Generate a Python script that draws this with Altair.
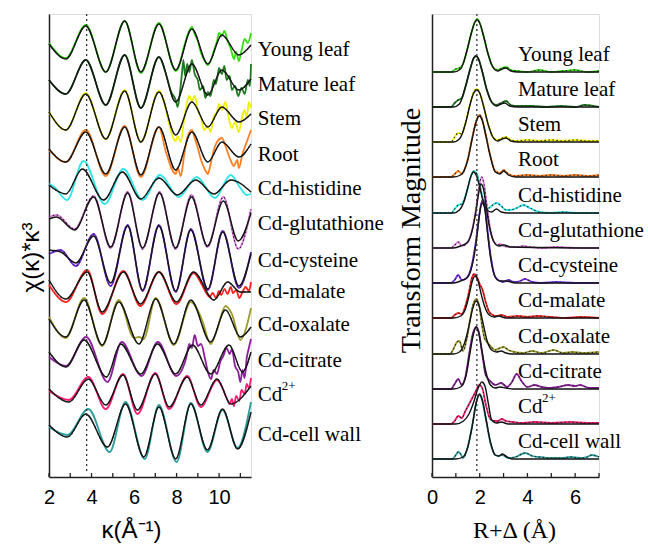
import altair as alt
import pandas as pd

# ---------------- categories / colours ----------------
SAMPLES = ["Young leaf", "Mature leaf", "Stem", "Root", "Cd-histidine", "Cd-glutathione",
           "Cd-cysteine", "Cd-malate", "Cd-oxalate", "Cd-citrate", "Cd2+", "Cd-cell wall"]
COLORS = ["#33dd11", "#1f7a1f", "#f0f000", "#ff7f22", "#2ee6e6", "#e47ae4",
          "#7a2cf5", "#ff2020", "#9c9c2c", "#8e1e9e", "#ff1a72", "#2a9c9c"]

# vertical offsets of the stacked traces
K_OFFSETS = [430, 395, 361, 325, 291, 256, 219, 188, 155, 119, 85, 45]
R_OFFSETS = [405, 370, 335, 300, 264, 229, 194, 159, 123, 88, 53, 18]

# ---------------- k-space (left panel) ----------------
PLANT_K = [2.0, 2.79, 3.73, 4.67, 5.56, 6.32, 7.17, 7.96, 8.72, 9.47, 10.13, 10.93, 11.5]

YL_KFY = [3, -12, 21, -25, 26, -25, 23, -23, 18, -17, 12, -8, 2]
YL_KD = [2.0, 2.79, 3.73, 4.67, 5.56, 6.32, 7.17, 7.96, 8.1, 8.25, 8.4, 8.55, 8.72, 8.85, 9.0, 9.15, 9.3,
         9.47, 9.6, 9.75, 9.9, 10.0, 10.13, 10.25, 10.4, 10.55, 10.7, 10.8, 10.93, 11.05, 11.2, 11.35, 11.5]
YL_KDY = [4, -11, 22, -25, 26, -26, 24, -24, -20, -8, 4, 14, 20, 13, 6, -6, -13,
          -18, -14, -4, 6, 14, 11, 16, 6, -2, -12, -5, -14, -4, 8, 4, 14]

ML_KFY = [2, -12, 22, -23, 27, -26, 25, -20, 18, -13, 12, -8, 3]
ML_KD = [2.0, 2.79, 3.73, 4.67, 5.56, 6.32, 7.17, 7.5, 7.75, 7.96, 8.05, 8.15, 8.25, 8.32, 8.4, 8.5, 8.6,
         8.72, 8.85, 9.0, 9.1, 9.25, 9.35, 9.47, 9.6, 9.75, 9.85, 10.0, 10.13, 10.25, 10.35, 10.5, 10.6,
         10.75, 10.9, 11.05, 11.2, 11.35, 11.45, 11.5]
ML_KDY = [2, -12, 22, -23, 27, -26, 25, 8, -10, -18, -25, -12, 8, 22, 6, 18, 10,
          22, 8, 2, -8, -4, -16, -10, -14, 2, -2, 14, 8, 16, 2, 6, -8,
          -4, -14, -6, -12, 2, -4, 18]

ST_KFY = [4, -14, 22, -23, 25, -26, 24, -19, 14, -11, 9, -6, 2]
ST_KD = [2.0, 2.79, 3.73, 4.67, 5.56, 6.32, 7.17, 7.96, 8.05, 8.2, 8.35, 8.5, 8.6, 8.72, 8.85, 9.0, 9.15,
         9.3, 9.47, 9.6, 9.75, 9.9, 10.0, 10.13, 10.3, 10.45, 10.6, 10.75, 10.93, 11.05, 11.2, 11.3, 11.4, 11.5]
ST_KDY = [4, -14, 23, -23, 26, -26, 25, -25, -20, -26, -4, 14, 20, 15, 20, 6, -2,
          -14, -10, -16, 0, 4, 12, 6, 14, -2, -12, -6, -16, -4, 6, -2, 14, 8]

RO_KFY = [3, -10, 20, -22, 25, -23, 25, -18, 20, -10, 10, -5, 8]
RO_KD = [2.0, 2.79, 3.73, 4.67, 5.56, 6.32, 7.17, 7.5, 7.96, 8.05, 8.2, 8.35, 8.5, 8.72, 8.85, 9.0,
         9.15, 9.3, 9.47, 9.6, 9.75, 9.9, 10.13, 10.3, 10.5, 10.7, 10.85, 10.93, 11.1, 11.3, 11.5]
RO_KDY = [2, -10, 22, -24, 26, -25, 25, 0, -22, -16, -24, -4, 14, 22, 14, 4,
          -8, -16, -22, -12, 2, 10, 14, 6, -6, -14, -8, -16, -2, 10, 22]

HI_KF = [2.0, 2.79, 3.57, 4.57, 5.45, 6.32, 7.17, 8.04, 8.9, 9.76, 10.55, 11.5]
HI_KFY = [1, -8, 17, -14, 14, -13, 8, -9, 6, -8, 6, -6]
HI_KD = [2.0, 2.2, 2.85, 3.62, 4.62, 5.5, 6.4, 7.22, 8.1, 8.95, 9.8, 10.55, 11.0, 11.3, 11.5]
HI_KDY = [2, 0, -14, 25, -18, 17, -14, 11, -11, 9, -12, 11, -2, -9, -8]

GS_K = [2.0, 2.35, 3.2, 4.1, 4.9, 5.7, 6.4, 7.2, 7.95, 8.7, 9.45, 10.2, 10.9, 11.5]
GS_KFY = [2, 4, -9, 24, -26, 28, -27, 28, -27, 24, -25, 20, -20, 8]
GS_KDY = [4, 6, -8, 25, -27, 29, -28, 29, -28, 26, -26, 24, -28, 12]

CY_K = [2.0, 2.55, 3.26, 4.1, 4.9, 5.7, 6.4, 7.17, 7.96, 8.67, 9.47, 10.17, 10.93, 11.5]
CY_KFY = [8, 6, -5, 22, -25, 32, -32, 32, -33, 28, -31, 26, -28, 4]
CY_KDY = [4, 8, -8, 24, -28, 33, -33, 33, -34, 29, -32, 27, -30, 6]

MA_KF = [2.0, 2.79, 3.8, 4.5, 5.5, 6.3, 7.17, 8.0, 8.8, 9.76, 10.4, 11.0, 11.5]
MA_KFY = [9, -10, 17, -23, 17, -15, 17, -13, 17, -11, 7, -3, -3]
MA_KD = [2.0, 2.8, 3.8, 4.5, 5.5, 6.3, 7.17, 8.0, 8.8, 9.2, 9.4, 9.55, 9.7, 9.85, 10.0, 10.1, 10.25,
         10.4, 10.55, 10.65, 10.8, 10.95, 11.1, 11.25, 11.4, 11.5]
MA_KDY = [4, -13, 19, -25, 18, -17, 17, -15, 16, 4, -4, -8, -4, -9, -2, -6, 0,
          -5, 2, -4, -1, -9, -3, 2, -2, 7]

OX_KF = [2.0, 2.79, 3.65, 4.5, 5.28, 6.23, 7.02, 7.87, 8.67, 9.6, 10.3, 11.0, 11.5]
OX_KFY = [3, -15, 22, -23, 20, -22, 23, -22, 22, -20, 12, -15, -5]
OX_KD = [2.0, 2.79, 3.65, 4.5, 5.28, 6.0, 6.23, 6.45, 7.02, 7.87, 8.67, 9.2, 9.6, 9.9, 10.3, 10.6, 11.0, 11.3, 11.5]
OX_KDY = [5, -16, 24, -24, 22, -16, -15, -17, 24, -23, 20, 2, -22, -8, 16, 8, -18, -4, 14]

CI_KF = [2.0, 2.79, 3.65, 4.7, 5.37, 6.32, 7.1, 7.96, 8.75, 9.6, 10.47, 11.1, 11.5]
CI_KFY = [6, -9, 18, -19, 14, -16, 14, -16, 13, -16, 13, -14, 6]
CI_KD = [2.0, 2.8, 3.75, 4.75, 5.42, 6.35, 7.12, 7.98, 8.45, 8.6, 8.72, 8.85, 9.0, 9.15, 9.35, 9.5,
         9.62, 9.75, 9.9, 10.05, 10.2, 10.35, 10.5, 10.6, 10.75, 10.9, 11.0, 11.1, 11.2, 11.3, 11.4, 11.5]
CI_KDY = [1, -8, 21, -24, 16, -18, 16, -18, 0, 14, 10, 23, 12, 14, -2, -16,
          -21, -12, -16, -4, 2, 10, 4, 9, -8, -14, -24, -12, -20, 0, 10, 19]

CD_KF = [2.0, 2.94, 3.85, 4.67, 5.48, 6.16, 7.0, 7.65, 8.5, 9.14, 9.9, 10.55, 11.5]
CD_KFY = [3, -10, 13, -13, 17, -18, 18, -15, 15, -13, 13, -12, 6]
CD_KD = [2.0, 2.94, 3.85, 4.67, 5.48, 6.16, 7.0, 7.65, 8.5, 9.14, 9.9, 10.2, 10.35, 10.5, 10.6, 10.7,
         10.8, 10.95, 11.05, 11.2, 11.3, 11.4, 11.5]
CD_KDY = [1, -8, 15, -17, 18, -22, 19, -17, 16, -15, 12, 2, -6, -12, -7, -14,
          -4, -9, 2, -2, 8, 4, 14]

CW_KF = [2.0, 2.87, 3.73, 4.75, 5.6, 6.46, 7.17, 7.96, 8.67, 9.45, 10.16, 10.87, 11.5]
CW_KFY = [7, -5, 18, -15, 28, -25, 25, -27, 28, -18, 23, -17, 20]
CW_KD = [2.0, 2.87, 3.85, 4.85, 5.6, 6.5, 7.17, 8.0, 8.67, 9.45, 10.16, 10.87, 11.5]
CW_KDY = [5, -3, 23, -20, 30, -27, 27, -30, 29, -20, 22, -16, 30]

# ---------------- R-space (right panel) ----------------
YL_RF = [0, 0.9, 1.2, 1.45, 1.65, 1.8, 1.9, 2.0, 2.15, 2.35, 2.55, 2.75, 2.95, 3.1, 3.3, 3.6, 7.0]
YL_RFY = [0, 0, 3, 20, 39, 50, 52, 49, 37, 18, 5, 1, 3, 4, 1, 0, 0]
YL_RD = [0, 0.8, 1.0, 1.15, 1.3, 1.45, 1.65, 1.8, 1.9, 2.0, 2.15, 2.35, 2.55, 2.75, 2.95, 3.1, 3.3, 3.6,
         4.0, 4.5, 5.0, 5.5, 6.0, 6.5, 7.0]
YL_RDY = [0, 0, 3, 4, 8, 20, 39, 50, 53, 49, 37, 18, 5, 2, 4, 5, 2, 1, 0, 2, 0, 1, 2, 0, 1]

ML_RF = [0, 0.9, 1.15, 1.4, 1.6, 1.75, 1.85, 1.95, 2.1, 2.3, 2.5, 2.7, 2.9, 3.05, 3.25, 3.6, 7.0]
ML_RFY = [0, 0, 3, 20, 38, 49, 51, 48, 36, 17, 5, 1, 3, 4, 1, 0, 0]
ML_RD = [0, 0.8, 0.95, 1.1, 1.25, 1.4, 1.6, 1.75, 1.85, 1.95, 2.1, 2.3, 2.5, 2.7, 2.9, 3.1, 3.3, 3.6,
         4.2, 4.8, 5.4, 6.0, 6.4, 7.0]
ML_RDY = [0, 0, 4, 7, 9, 20, 38, 49, 51, 48, 36, 17, 5, 2, 4, 6, 2, 1, 1, 0, 1, 0, 2, 0]

ST_RF = [0, 0.9, 1.15, 1.4, 1.6, 1.75, 1.88, 2.0, 2.15, 2.35, 2.55, 2.75, 2.95, 3.1, 3.3, 3.6, 7.0]
ST_RFY = [0, 0, 3, 18, 38, 49, 52, 49, 37, 18, 5, 1, 3, 4, 1, 0, 0]
ST_RD = [0, 0.8, 0.95, 1.1, 1.25, 1.4, 1.6, 1.75, 1.88, 2.0, 2.15, 2.35, 2.55, 2.75, 2.95, 3.1, 3.3, 3.6,
         4.0, 4.5, 5.0, 5.5, 6.0, 6.5, 7.0]
ST_RDY = [0, 0, 5, 9, 8, 19, 38, 50, 53, 49, 37, 18, 5, 2, 4, 5, 2, 1, 2, 1, 2, 1, 2, 1, 1]

RO_RF = [0, 0.9, 1.2, 1.5, 1.7, 1.85, 1.99, 2.1, 2.25, 2.45, 2.65, 2.85, 3.0, 3.2, 3.5, 7.0]
RO_RFY = [0, 0, 2, 17, 40, 55, 61, 57, 42, 20, 5, 3, 6, 2, 0, 0]
RO_RD = [0, 0.8, 0.95, 1.1, 1.25, 1.5, 1.7, 1.85, 1.99, 2.1, 2.25, 2.45, 2.65, 2.85, 3.0, 3.2, 3.5,
         4.0, 4.5, 5.0, 5.5, 6.0, 6.5, 7.0]
RO_RDY = [0, 0, 3, 6, 3, 18, 41, 56, 62, 58, 43, 21, 6, 4, 7, 3, 1, 2, 1, 2, 1, 2, 1, 2]

HI_RF = [0, 0.9, 1.15, 1.35, 1.5, 1.62, 1.74, 1.85, 2.0, 2.15, 2.3, 2.5, 2.7, 2.9, 3.2, 7.0]
HI_RFY = [0, 0, 3, 12, 25, 36, 41, 38, 26, 11, 3, 1, 4, 1, 0, 0]
HI_RD = [0, 0.8, 0.95, 1.1, 1.25, 1.4, 1.55, 1.65, 1.76, 1.88, 2.0, 2.15, 2.3, 2.45, 2.6, 2.72, 2.9,
         3.1, 3.3, 3.55, 3.83, 4.1, 4.5, 5.0, 5.5, 6.0, 7.0]
HI_RDY = [0, 0, 4, 8, 9, 17, 30, 38, 42, 39, 28, 13, 4, 6, 9, 10, 7, 3, 3, 5, 8, 5, 1, 0, 1, 0, 0]

GS_RF = [0, 0.9, 1.2, 1.5, 1.7, 1.85, 1.95, 2.05, 2.15, 2.25, 2.4, 2.6, 2.8, 3.0, 3.3, 7.0]
GS_RFY = [0, 0, 2, 6, 19, 38, 54, 64, 60, 45, 22, 6, 2, 3, 1, 0]
GS_RD = [0, 0.8, 0.95, 1.1, 1.25, 1.5, 1.7, 1.85, 1.95, 2.08, 2.18, 2.28, 2.42, 2.6, 2.75, 2.86, 3.0,
         3.3, 3.6, 3.8, 4.1, 4.6, 5.2, 6.0, 7.0]
GS_RDY = [0, 0, 3, 6, 2, 6, 20, 40, 57, 71, 64, 46, 22, 6, 3, 4, 2, 1, 1, 2, 1, 0, 1, 0, 0]

CY_RF = [0, 0.9, 1.2, 1.5, 1.75, 1.9, 2.0, 2.1, 2.2, 2.3, 2.45, 2.65, 2.85, 3.1, 3.5, 7.0]
CY_RFY = [0, 0, 2, 6, 25, 50, 70, 80, 76, 56, 26, 6, 2, 2, 0, 0]
CY_RD = [0, 0.8, 0.95, 1.1, 1.25, 1.4, 1.6, 1.8, 1.95, 2.05, 2.14, 2.24, 2.34, 2.48, 2.65, 2.85, 3.0,
         3.2, 3.45, 3.7, 3.9, 4.2, 4.6, 5.2, 6.0, 7.0]
CY_RDY = [0, 0, 3, 8, 3, 4, 12, 35, 62, 78, 83, 72, 50, 24, 6, 2, 1, 3, 1, 2, 4, 1, 0, 1, 0, 0]

MA_RF = [0, 0.9, 1.2, 1.4, 1.55, 1.68, 1.8, 1.92, 2.05, 2.2, 2.4, 2.6, 2.8, 3.1, 7.0]
MA_RFY = [0, 0, 2, 9, 22, 36, 42, 38, 25, 12, 3, 1, 2, 0, 0]
MA_RD = [0, 0.8, 0.95, 1.1, 1.25, 1.4, 1.55, 1.65, 1.76, 1.88, 2.0, 2.12, 2.25, 2.4, 2.55, 2.7, 2.9,
         3.2, 3.6, 4.0, 4.4, 5.0, 5.6, 6.2, 7.0]
MA_RDY = [0, 0, 3, 5, 4, 12, 26, 38, 44, 41, 34, 28, 16, 6, 3, 2, 3, 1, 2, 1, 2, 1, 0, 1, 0]

OX_RF = [0, 0.9, 1.15, 1.35, 1.55, 1.7, 1.85, 1.98, 2.12, 2.3, 2.5, 2.7, 2.9, 3.1, 3.4, 7.0]
OX_RFY = [0, 0, 2, 10, 28, 45, 53, 48, 33, 14, 4, 2, 3, 1, 0, 0]
OX_RD = [0, 0.75, 0.9, 1.05, 1.15, 1.3, 1.45, 1.6, 1.72, 1.86, 1.98, 2.1, 2.2, 2.3, 2.45, 2.65, 2.85,
         3.0, 3.2, 3.45, 3.8, 4.2, 4.6, 5.1, 5.5, 5.9, 6.3, 7.0]
OX_RDY = [0, 0, 5, 12, 13, 3, 14, 35, 49, 55, 48, 28, 16, 12, 8, 4, 6, 7, 4, 2, 1, 3, 1, 4, 1, 2, 1, 2]

CI_RF = [0, 0.9, 1.2, 1.45, 1.62, 1.75, 1.85, 1.95, 2.08, 2.25, 2.45, 2.65, 2.85, 3.1, 3.4, 7.0]
CI_RFY = [0, 0, 2, 16, 40, 56, 62, 57, 40, 18, 4, 1, 2, 1, 0, 0]
CI_RD = [0, 0.8, 0.95, 1.1, 1.25, 1.4, 1.55, 1.7, 1.85, 1.97, 2.1, 2.25, 2.44, 2.65, 2.9, 3.15, 3.35,
         3.55, 3.75, 4.0, 4.3, 4.6, 4.9, 5.3, 5.7, 6.0, 6.2, 6.6, 7.0]
CI_RDY = [0, 0, 5, 10, 4, 12, 34, 54, 62, 56, 36, 14, 8, 4, 6, 2, 7, 15, 8, 2, 4, 2, 1, 2, 4, 3, 4, 1, 1]

CD_RF = [0, 1.0, 1.32, 1.55, 1.75, 1.92, 2.09, 2.22, 2.35, 2.5, 2.7, 2.9, 3.2, 7.0]
CD_RFY = [0, 0, 3, 10, 22, 35, 42, 38, 22, 4, 1, 2, 0, 0]
CD_RD = [0, 0.8, 0.95, 1.1, 1.25, 1.4, 1.6, 1.8, 1.99, 2.12, 2.25, 2.44, 2.6, 2.75, 2.93, 3.1, 3.4,
         3.8, 4.3, 5.0, 5.8, 6.5, 7.0]
CD_RDY = [0, 0, 3, 8, 6, 13, 22, 31, 39, 35, 20, 5, 3, 3, 5, 3, 2, 1, 2, 1, 2, 1, 1]

CW_RF = [0, 1.0, 1.3, 1.5, 1.7, 1.85, 1.99, 2.1, 2.25, 2.45, 2.65, 2.8, 2.95, 3.15, 3.4, 7.0]
CW_RFY = [0, 0, 2, 12, 35, 56, 65, 60, 42, 17, 4, 3, 5, 2, 0, 0]
CW_RD = [0, 0.85, 1.0, 1.1, 1.2, 1.3, 1.5, 1.7, 1.85, 1.99, 2.1, 2.25, 2.45, 2.65, 2.8, 2.95, 3.2,
         3.5, 3.9, 4.2, 4.5, 5.0, 5.5, 5.8, 6.2, 6.5, 6.7, 7.0]
CW_RDY = [0, 0, 4, 7, 5, 1, 12, 35, 56, 64, 59, 41, 16, 4, 3, 4, 1, 2, 6, 3, 2, 1, 1, 2, 1, 2, 4, 2]

# reference (dotted) lines and tick positions
REF_K = [3.77]
REF_R = [1.88]
TICKS_K = [2, 3, 4, 5, 6, 7, 8, 9, 10, 11]
TICKS_R = [0, 1, 2, 3, 4, 5, 6, 7]
LABELS_K = [2, 4, 6, 8, 10]
LABELS_R = [0, 2, 4, 6]

K_SERIES = [
    (PLANT_K, YL_KFY, YL_KD, YL_KDY),
    (PLANT_K, ML_KFY, ML_KD, ML_KDY),
    (PLANT_K, ST_KFY, ST_KD, ST_KDY),
    (PLANT_K, RO_KFY, RO_KD, RO_KDY),
    (HI_KF, HI_KFY, HI_KD, HI_KDY),
    (GS_K, GS_KFY, GS_K, GS_KDY),
    (CY_K, CY_KFY, CY_K, CY_KDY),
    (MA_KF, MA_KFY, MA_KD, MA_KDY),
    (OX_KF, OX_KFY, OX_KD, OX_KDY),
    (CI_KF, CI_KFY, CI_KD, CI_KDY),
    (CD_KF, CD_KFY, CD_KD, CD_KDY),
    (CW_KF, CW_KFY, CW_KD, CW_KDY),
]
R_SERIES = [
    (YL_RF, YL_RFY, YL_RD, YL_RDY),
    (ML_RF, ML_RFY, ML_RD, ML_RDY),
    (ST_RF, ST_RFY, ST_RD, ST_RDY),
    (RO_RF, RO_RFY, RO_RD, RO_RDY),
    (HI_RF, HI_RFY, HI_RD, HI_RDY),
    (GS_RF, GS_RFY, GS_RD, GS_RDY),
    (CY_RF, CY_RFY, CY_RD, CY_RDY),
    (MA_RF, MA_RFY, MA_RD, MA_RDY),
    (OX_RF, OX_RFY, OX_RD, OX_RDY),
    (CI_RF, CI_RFY, CI_RD, CI_RDY),
    (CD_RF, CD_RFY, CD_RD, CD_RDY),
    (CW_RF, CW_RFY, CW_RD, CW_RDY),
]


def build(series, offsets, dot_on_data):
    fit, dat, dot = [], [], []
    for name, off, (xf, yf, xd, yd) in zip(SAMPLES, offsets, series):
        for x, v in zip(xf, yf):
            fit.append({"sample": name, "x": x, "y": off + v})
        for x, v in zip(xd, yd):
            dat.append({"sample": name, "x": x, "y": off + v})
        # dotted trace follows the data where it is smooth, otherwise the fit
        if dot_on_data or list(xd) == list(xf):
            pts = zip(xd, yd)
        else:
            pts = zip(xf, yf)
        for x, v in pts:
            dot.append({"sample": name, "x": x, "y": off + v})
    return pd.DataFrame(fit), pd.DataFrame(dat), pd.DataFrame(dot)


kfit, kdat, kdot = build(K_SERIES, K_OFFSETS, False)
rfit, rdat, rdot = build(R_SERIES, R_OFFSETS, True)

H = 463
WL = 202
WR = 167
SERIF = "Liberation Serif"
SANS = "Liberation Sans"
color_enc = alt.Color("sample:N", scale=alt.Scale(domain=SAMPLES, range=COLORS), legend=None)


def panel(fit, dat, dot, xdom, ref, ticks, labvals, width, xtitle, xtitle_font, xtitle_x,
          ytitle, ytitle_font, ytitle_size, ytitle_x, ytitle_y, offsets, lab_x, lab_dy):
    xs = alt.Scale(domain=xdom, nice=False, zero=False)
    ys = alt.Scale(domain=[0, H], nice=False, zero=False)
    xax = alt.Axis(values=labvals, title=xtitle, ticks=False, tickSize=0, grid=False,
                   labelFont=SANS, labelFontSize=20, labelColor="black", labelPadding=10,
                   labelFlush=False, domainColor="#222222", domainWidth=1.5,
                   titleFont=xtitle_font, titleFontSize=24, titleFontWeight="normal",
                   titleColor="black", titleX=xtitle_x, titleY=60, titleBaseline="alphabetic",
                   titleAlign="center")
    yax = alt.Axis(labels=False, ticks=False, grid=False, title=ytitle, domainColor="#222222",
                   domainWidth=1.5, titleFont=ytitle_font, titleFontSize=ytitle_size,
                   titleFontWeight="normal", titleColor="black", titleAngle=270,
                   titleX=ytitle_x, titleY=ytitle_y, titleBaseline="middle", titleAlign="center")
    base_x = alt.X("x:Q", scale=xs, axis=xax)
    base_y = alt.Y("y:Q", scale=ys, axis=yax)

    data_l = alt.Chart(dat).mark_line(strokeWidth=1.8, interpolate="monotone").encode(
        x=base_x, y=base_y, color=color_enc, detail="sample:N")
    fit_l = alt.Chart(fit).mark_line(strokeWidth=1.4, color="#111111", interpolate="monotone").encode(
        x="x:Q", y="y:Q", detail="sample:N")
    dot_l = alt.Chart(dot).mark_line(strokeWidth=1.1, color="#222222", strokeDash=[1.5, 2.5],
                                     interpolate="monotone").encode(
        x="x:Q", y="y:Q", detail="sample:N")
    ref_l = alt.Chart(pd.DataFrame({"x": ref})).mark_rule(
        color="#333333", strokeWidth=1.3, strokeDash=[2, 3]).encode(
        x="x:Q", y=alt.value(0), y2=alt.value(H - 6))
    tick_l = alt.Chart(pd.DataFrame({"x": ticks})).mark_rule(color="#222222", strokeWidth=1.3).encode(
        x="x:Q", y=alt.value(H), y2=alt.value(H - 4))

    labs = pd.DataFrame({"label": [("Cd" if s == "Cd2+" else s) for s in SAMPLES],
                         "x": [lab_x] * len(SAMPLES),
                         "y": [o + lab_dy for o in offsets]})
    sup = pd.DataFrame({"label": ["2+"], "x": [lab_x],
                        "y": [offsets[SAMPLES.index("Cd2+")] + lab_dy]})
    text_l = alt.Chart(labs).mark_text(font=SERIF, fontSize=21, align="left", baseline="middle",
                                       color="black").encode(x="x:Q", y="y:Q", text="label:N")
    sup_l = alt.Chart(sup).mark_text(font=SERIF, fontSize=13, align="left", baseline="middle",
                                     color="black", dx=24, dy=-9).encode(x="x:Q", y="y:Q", text="label:N")

    return alt.layer(data_l, fit_l, dot_l, ref_l, tick_l, text_l, sup_l).properties(
        width=width, height=H)


left = panel(kfit, kdat, kdot, [2, 11.5], REF_K, TICKS_K, LABELS_K, WL,
             "κ(Å⁻¹)", SANS, 82, "χ(κ)*κ³", SANS, 24, -18, 243, K_OFFSETS, 11.82, -3)
right = panel(rfit, rdat, rdot, [0, 7], REF_R, TICKS_R, LABELS_R, WR,
              "R+Δ (Å)", SERIF, 82, "Transform Magnitude", SERIF, 28, -21, 216, R_OFFSETS, 3.6, 17)

chart = alt.hconcat(left, right, spacing=181, bounds="flush").properties(
    padding={"left": 18, "top": 12, "right": 0, "bottom": 0}
).configure_view(stroke=None).configure(background="white")

chart.save("out.html", embed_options={"renderer": "svg", "actions": False})
